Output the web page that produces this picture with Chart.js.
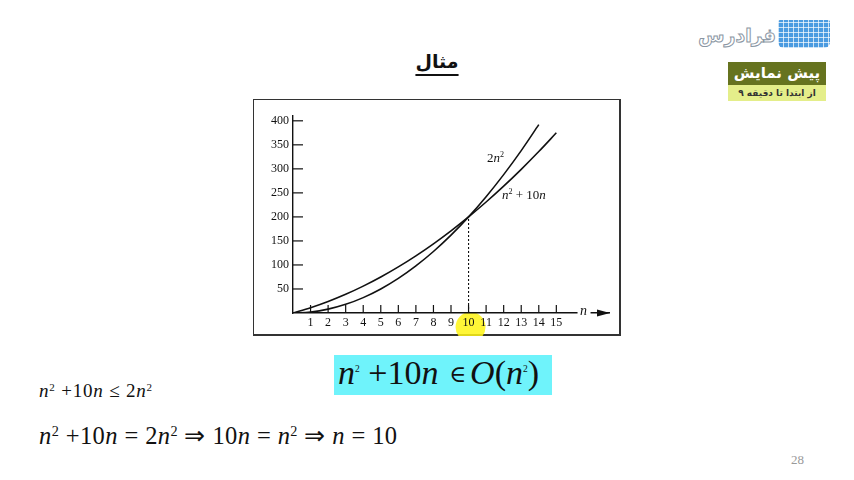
<!DOCTYPE html>
<html lang="fa">
<head>
<meta charset="UTF-8">
<title>مثال</title>
<script src="https://cdn.jsdelivr.net/npm/chart.js"></script>
<style>
  body { margin:0; width:854px; height:480px; background:#fff; position:relative; overflow:hidden; }
  .abs { position:absolute; }
  .title { left:387px; top:50px; width:100px; text-align:center; font:bold 19px "DejaVu Sans"; direction:rtl; text-decoration:underline; text-underline-offset:6px; text-decoration-thickness:2px; color:#111; }
  .frame { left:253px; top:99px; width:365px; height:234px; border:1.5px solid #333; border-right-width:2px; border-bottom-width:2px; }
  .chartbox { left:253px; top:99px; width:368px; height:237px; }
  .cyan { left:334px; top:355px; width:218px; height:40px; background:#6ff3fb; }
  .math { font-family:"Liberation Serif", "Times New Roman", serif; white-space:nowrap; color:#111; }
  .math i { font-style:italic; }
  .math sup { font-size:58%; vertical-align:0.55em; line-height:0; }
  .eq0 { left:338px; top:351px; font-size:34px; line-height:44px; }
  .eq0 sup { font-size:28%; vertical-align:1.3em; }
  .eq0 .op { font-family:"DejaVu Serif", serif; font-size:68%; vertical-align:0.08em; margin:0 4px 0 2px; }
  .eq1 { left:39px; top:380px; font-size:19px; line-height:22px; letter-spacing:0.8px; }
  .eq2 { left:39px; top:422px; font-size:24.5px; line-height:28px; letter-spacing:0.4px; }
  .page { left:791px; top:452px; font:13px "Liberation Serif", serif; color:#999; }
  .brand { right:78px; top:24px; font:bold 19px "DejaVu Sans"; color:#fff; -webkit-text-stroke:1px #8a96a3; direction:rtl; white-space:nowrap; }
  .book { left:778px; top:20px; width:52px; height:28px; background:#4b9be0;
          background-image:repeating-linear-gradient(90deg, rgba(255,255,255,.7) 0 1px, transparent 1px 5px),
                           repeating-linear-gradient(0deg, rgba(255,255,255,.7) 0 1px, transparent 1px 5px);
          border-radius:2px 2px 6px 6px; }
  .green { left:728px; top:62px; width:98px; height:23px; background:#66731f; color:#fff; font:bold 15px "DejaVu Sans"; text-align:center; line-height:23px; direction:rtl; }
  .yellow { left:728px; top:85px; width:98px; height:16px; background:#e4ee8a; color:#333; font:bold 9px "DejaVu Sans"; text-align:center; line-height:16px; direction:rtl; }
</style>
</head>
<body>
  <div class="abs title">مثال</div>
  <div class="abs brand">فرادرس</div>
  <div class="abs book"></div>
  <div class="abs green">پیش نمایش</div>
  <div class="abs yellow">از ابتدا تا دقیقه ۹</div>

  <div class="abs frame"></div>
  <div class="abs chartbox"><canvas id="grafico" width="368" height="237"></canvas></div>

  <div class="abs cyan"></div>
  <div class="abs math eq0"><i>n</i><sup>2</sup> +10<i>n</i> <span class="op">&isin;</span><i>O</i>(<i>n</i><sup>2</sup>)</div>
  <div class="abs math eq1"><i>n</i><sup>2</sup> +10<i>n</i> &le; 2<i>n</i><sup>2</sup></div>
  <div class="abs math eq2"><i>n</i><sup>2</sup> +10<i>n</i> = 2<i>n</i><sup>2</sup> &rArr; 10<i>n</i> = <i>n</i><sup>2</sup> &rArr; <i>n</i> = 10</div>
  <div class="abs page">28</div>

<script>
// valores
const nValues   = [0, 1, 2, 3, 4, 5, 6, 7, 8, 9, 10, 11, 12, 13, 14, 15]
const twoNSq    = [0, 2, 8, 18, 32, 50, 72, 98, 128, 162, 200, 242, 288, 338, 392]
const nSqPlus10 = [0, 11, 24, 39, 56, 75, 96, 119, 144, 171, 200, 231, 264, 299, 336, 375]
const crossN    = [10, 10]
const crossY    = [0, 200]
const xLabels   = [1, 2, 3, 4, 5, 6, 7, 8, 9, 10, 11, 12, 13, 14, 15]
const yLabels   = [50, 100, 150, 200, 250, 300, 350, 400]

const ink = '#111'
const serif = 'Liberation Serif'

// escreve texto com partes italicas / expoente
function drawParts(ctx, parts, x, y, size) {
  parts.forEach(p => {
    const s = p.sup ? size * 0.62 : size
    ctx.font = (p.it ? 'italic ' : '') + s + 'px "' + serif + '"'
    ctx.fillText(p.t, x, p.sup ? y - size * 0.42 : y)
    x += ctx.measureText(p.t).width
  })
}

const decor = {
  id: 'decor',
  beforeDraw(chart) {
    // marca amarela do cursor
    const {ctx, scales: {x}, chartArea} = chart
    ctx.save()
    ctx.fillStyle = 'rgba(255,245,20,0.85)'
    ctx.beginPath()
    ctx.arc(x.getPixelForValue(10) + 2, chartArea.bottom + 14, 15, 0, Math.PI * 2)
    ctx.fill()
    ctx.restore()
  },
  afterDraw(chart) {
    const {ctx, scales: {x, y}, chartArea} = chart
    ctx.save()
    ctx.strokeStyle = ink
    ctx.lineWidth = 1.2
    // tracinhos do eixo y (para dentro)
    yLabels.forEach(v => {
      const py = y.getPixelForValue(v)
      ctx.beginPath(); ctx.moveTo(chartArea.left, py); ctx.lineTo(chartArea.left + 10, py); ctx.stroke()
    })
    // tracinhos do eixo x (para cima)
    xLabels.forEach(v => {
      const px = x.getPixelForValue(v)
      ctx.beginPath(); ctx.moveTo(px, chartArea.bottom); ctx.lineTo(px, chartArea.bottom - 8); ctx.stroke()
    })
    // "n" e seta
    const nx = x.getPixelForValue(16.55)
    ctx.fillStyle = '#fff'
    ctx.fillRect(nx - 6, chartArea.bottom - 3, 13, 6)
    ctx.fillStyle = ink
    ctx.font = 'italic 14px "' + serif + '"'
    ctx.textAlign = 'center'
    ctx.textBaseline = 'middle'
    ctx.fillText('n', nx, chartArea.bottom - 2)
    ctx.beginPath()
    ctx.moveTo(chartArea.right + 1, chartArea.bottom)
    ctx.lineTo(chartArea.right - 12, chartArea.bottom - 3.5)
    ctx.lineTo(chartArea.right - 12, chartArea.bottom + 3.5)
    ctx.closePath()
    ctx.fill()
    // nomes das curvas
    ctx.textAlign = 'left'
    ctx.textBaseline = 'alphabetic'
    drawParts(ctx, [{t: '2'}, {t: 'n', it: true}, {t: '2', sup: true}],
      x.getPixelForValue(11.05), y.getPixelForValue(314), 13)
    drawParts(ctx, [{t: 'n', it: true}, {t: '2', sup: true}, {t: ' + 10'}, {t: 'n', it: true}],
      x.getPixelForValue(11.9), y.getPixelForValue(237), 13)
    ctx.restore()
  }
}

const curveStyle = {
  borderColor: ink, borderWidth: 1.6, pointRadius: 0, fill: false,
  cubicInterpolationMode: 'monotone'
}

new Chart(document.getElementById('grafico'), {
  type: 'line',
  data: {
    datasets: [
      Object.assign({label: '2n^2', data: twoNSq.map((v, i) => ({x: nValues[i], y: v}))}, curveStyle),
      Object.assign({label: 'n^2 + 10n', data: nSqPlus10.map((v, i) => ({x: nValues[i], y: v}))}, curveStyle),
      {label: 'n = 10', data: crossN.map((v, i) => ({x: v, y: crossY[i]})),
       borderColor: ink, borderWidth: 1.1, borderDash: [2, 2], pointRadius: 0}
    ]
  },
  options: {
    responsive: false,
    animation: false,
    layout: {padding: {top: 17, right: 12, bottom: 1, left: 0}},
    plugins: {legend: {display: false}, tooltip: {enabled: false}},
    scales: {
      x: {
        type: 'linear', min: 0, max: 18,
        afterFit: s => { s.height = 22 },
        grid: {display: false, drawTicks: false},
        border: {display: true, color: ink, width: 1.4},
        ticks: {
          stepSize: 1, autoSkip: false, maxRotation: 0, padding: 3, color: ink,
          font: {family: serif, size: 12},
          callback: v => xLabels.includes(v) ? String(v) : ''
        }
      },
      y: {
        min: 0, max: 410,
        afterFit: s => { s.width = 40 },
        grid: {display: false, drawTicks: false},
        border: {display: true, color: ink, width: 1.4},
        ticks: {
          stepSize: 50, includeBounds: false, padding: 4, color: ink,
          font: {family: serif, size: 12},
          callback: v => yLabels.includes(v) ? String(v) : ''
        }
      }
    }
  },
  plugins: [decor]
})
</script>
</body>
</html>
